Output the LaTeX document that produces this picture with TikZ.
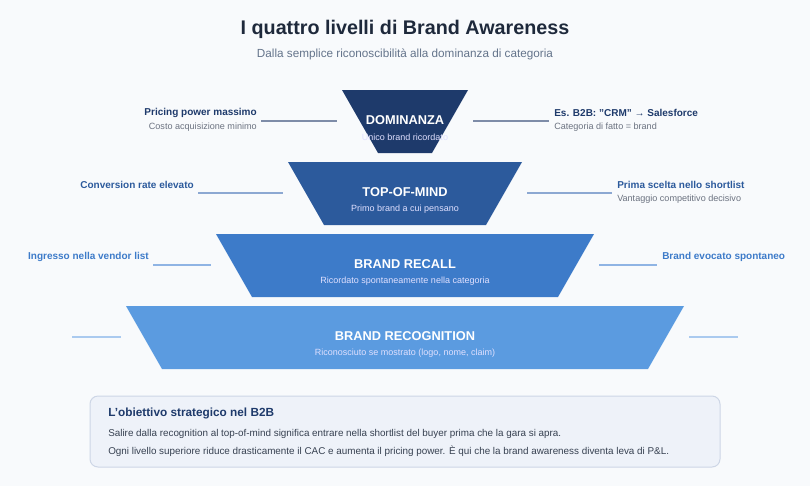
\documentclass[tikz,border=0pt]{standalone}
\usepackage{fontspec}
\setmainfont{Liberation Sans}
\definecolor{bg}{HTML}{F8FAFC}
\definecolor{lvA}{HTML}{1E3A6B}
\definecolor{lvB}{HTML}{2C5A9C}
\definecolor{lvC}{HTML}{3D7BC9}
\definecolor{lvD}{HTML}{5B9BE0}
\definecolor{lnA}{HTML}{7E8CA8}
\definecolor{lnB}{HTML}{8CA8D2}
\definecolor{lnC}{HTML}{8FB4E4}
\definecolor{lnD}{HTML}{AACAEF}
\definecolor{ttl}{HTML}{1E293B}
\definecolor{subg}{HTML}{64748B}
\definecolor{sideg}{HTML}{6B7280}
\definecolor{boxfill}{HTML}{EEF2F9}
\definecolor{boxline}{HTML}{CDD6E6}
\definecolor{bodyc}{HTML}{374151}
\begin{document}
\begin{tikzpicture}[x=0.75pt,y=-0.75pt,
  lvltitle/.style={text=white,font=\fontsize{9.6}{11}\selectfont\bfseries,inner sep=0pt},
  lvlsub/.style={text=white!88!blue,font=\fontsize{6.75}{8}\selectfont,inner sep=0pt},
  sidettl/.style={font=\fontsize{7.5}{9}\selectfont\bfseries,inner sep=0pt},
  sidesub/.style={text=sideg,font=\fontsize{6.8}{8}\selectfont,inner sep=0pt},
  conn/.style={line width=1.5pt}]
\fill[bg] (0,0) rectangle (810,486);
\useasboundingbox (0,0) rectangle (810,486);
% title
\node[text=ttl,font=\fontsize{14.8}{16}\selectfont\bfseries,inner sep=0pt] (title) at (405,29) {I quattro livelli di Brand Awareness};
\node[text=subg,font=\fontsize{8.8}{10}\selectfont,inner sep=0pt] (subtitle) at (405,54) {Dalla semplice riconoscibilità alla dominanza di categoria};
% trapezoids
\fill[lvA] (342,90) -- (468,90) -- (432,153) -- (378,153) -- cycle;
\fill[lvB] (288,162) -- (522,162) -- (486,225) -- (324,225) -- cycle;
\fill[lvC] (216,234) -- (594,234) -- (558,297) -- (252,297) -- cycle;
\fill[lvD] (126,306) -- (684,306) -- (648,369) -- (162,369) -- cycle;
% level texts
\node[lvltitle] (tA) at (405,120) {DOMINANZA};
\node[lvlsub] (sA) at (405,137) {Unico brand ricordato};
\node[lvltitle] (tB) at (405,192) {TOP-OF-MIND};
\node[lvlsub] (sB) at (405,209) {Primo brand a cui pensano};
\node[lvltitle] (tC) at (405,264) {BRAND RECALL};
\node[lvlsub] (sC) at (405,281) {Ricordato spontaneamente nella categoria};
\node[lvltitle] (tD) at (405,336) {BRAND RECOGNITION};
\node[lvlsub] (sD) at (405,353) {Riconosciuto se mostrato (logo, nome, claim)};
% connectors
\coordinate (aL1) at (261,121); \coordinate (aL2) at (337,121);
\coordinate (aR1) at (473,121); \coordinate (aR2) at (549,121);
\coordinate (bL1) at (198,193); \coordinate (bL2) at (283,193);
\coordinate (bR1) at (527,193); \coordinate (bR2) at (612,193);
\coordinate (cL1) at (153,265); \coordinate (cL2) at (211,265);
\coordinate (cR1) at (599,265); \coordinate (cR2) at (657,265);
\coordinate (dL1) at (72,337); \coordinate (dL2) at (121,337);
\coordinate (dR1) at (689,337); \coordinate (dR2) at (738,337);
\draw[conn,lnA] (aL1) -- (aL2); \draw[conn,lnA] (aR1) -- (aR2);
\draw[conn,lnB] (bL1) -- (bL2); \draw[conn,lnB] (bR1) -- (bR2);
\draw[conn,lnC] (cL1) -- (cL2); \draw[conn,lnC] (cR1) -- (cR2);
\draw[conn,lnD] (dL1) -- (dL2); \draw[conn,lnD] (dR1) -- (dR2);
% side labels
\node[sidettl,text=lvA,anchor=east] (lA) at (257,113) {Pricing power massimo};
\node[sidesub,anchor=east] (lA2) at (257,127) {Costo acquisizione minimo};
\node[sidettl,text=lvA,anchor=west] (rA) at (554,113) {Es. B2B: "CRM" → Salesforce};
\node[sidesub,anchor=west] (rA2) at (554,127) {Categoria di fatto = brand};
\node[sidettl,text=lvB,anchor=east] (lB) at (194,185) {Conversion rate elevato};
\node[sidettl,text=lvB,anchor=west] (rB) at (617,185) {Prima scelta nello shortlist};
\node[sidesub,anchor=west] (rB2) at (617,199) {Vantaggio competitivo decisivo};
\node[sidettl,text=lvC,anchor=east] (lC) at (149,257) {Ingresso nella vendor list};
\node[sidettl,text=lvC,anchor=west] (rC) at (662,257) {Brand evocato spontaneo};
% bottom box
\draw[fill=boxfill,draw=boxline,line width=0.75pt,rounded corners=6] (90,396) rectangle (720,467);
\node[anchor=west,text=lvA,font=\fontsize{8.85}{11}\selectfont\bfseries,inner sep=0pt] (bh) at (108,413) {L'obiettivo strategico nel B2B};
\node[anchor=west,text=bodyc,font=\fontsize{7.4}{9}\selectfont,inner sep=0pt] (b1) at (108,434) {Salire dalla recognition al top-of-mind significa entrare nella shortlist del buyer prima che la gara si apra.};
\node[anchor=west,text=bodyc,font=\fontsize{7.4}{9}\selectfont,inner sep=0pt] (b2) at (108,451) {Ogni livello superiore riduce drasticamente il CAC e aumenta il pricing power. È qui che la brand awareness diventa leva di P\&L.};
\end{tikzpicture}
\end{document}
